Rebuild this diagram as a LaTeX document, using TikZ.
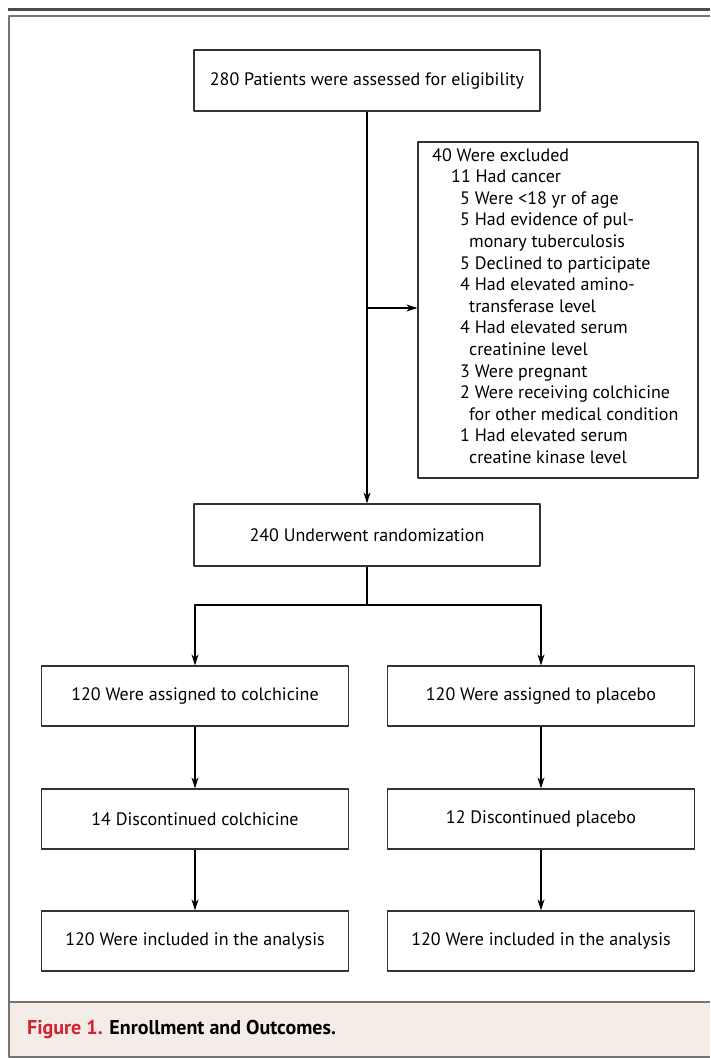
\documentclass[tikz,border=0pt]{standalone}
\usepackage{fontspec}
\setmainfont{PT Sans}
\usetikzlibrary{arrows.meta}
\definecolor{capbg}{HTML}{F3ECE7}
\definecolor{capred}{HTML}{D42030}
\definecolor{framegray}{HTML}{747474}
\tikzset{
  flowbox/.style={draw=black!80, line width=1.2pt, minimum width=307pt, minimum height=60pt, inner sep=0pt},
  flowline/.style={draw=black, line width=1.1pt},
  flowarrow/.style={flowline, -{Stealth[length=11pt,width=7pt]}},
}
\begin{document}
\begin{tikzpicture}[x=1pt, y=-1pt, line join=round, font=\fontsize{18}{21.6}\selectfont]
	\useasboundingbox (0,0) rectangle (710,1058);
	% frame and caption band
	\fill[capbg] (9,1002) rectangle (710,1057);
	\draw[black!70, line width=3pt] (8,9) -- (710,9);
	\draw[framegray, line width=2pt] (710,16) -- (9,16) -- (9,1057) -- (710,1057);
	\draw[framegray, line width=1.5pt] (9,1002) -- (710,1002);
	\node[anchor=base west, inner sep=0pt, font=\fontsize{20}{24}\selectfont] (caption) at (27,1034)
		{\textbf{\textcolor{capred}{Figure 1.} Enrollment and Outcomes.}};
	% boxes
	\node[flowbox, minimum width=346pt, minimum height=61pt] (assess) at (367,80.5) {280 Patients were assessed for eligibility};
	\node[flowbox, minimum width=280pt, minimum height=336pt] (excl) at (558,310) {};
	\node[anchor=north west, align=left, inner sep=0pt] (excltext) at (432,148) {%
		40 Were excluded\\
		\hspace*{19pt}11 Had cancer\\
		\hspace*{28pt}5 Were <18 yr of age\\
		\hspace*{28pt}5 Had evidence of pul-\\
		\hspace*{37pt}monary tuberculosis\\
		\hspace*{28pt}5 Declined to participate\\
		\hspace*{28pt}4 Had elevated amino-\\
		\hspace*{37pt}transferase level\\
		\hspace*{28pt}4 Had elevated serum\\
		\hspace*{37pt}creatinine level\\
		\hspace*{28pt}3 Were pregnant\\
		\hspace*{28pt}2 Were receiving colchicine\\
		\hspace*{37pt}for other medical condition\\
		\hspace*{28pt}1 Had elevated serum\\
		\hspace*{37pt}creatine kinase level};
	\node[flowbox, minimum width=346pt, minimum height=62pt] (rand) at (367,535) {240 Underwent randomization};
	\node[flowbox] (assignC) at (195,696) {120 Were assigned to colchicine};
	\node[flowbox] (assignP) at (541,696) {120 Were assigned to placebo};
	\node[flowbox] (discC) at (195,819) {14 Discontinued colchicine};
	\node[flowbox] (discP) at (541,819) {12 Discontinued placebo};
	\node[flowbox] (inclC) at (195,941) {120 Were included in the analysis};
	\node[flowbox] (inclP) at (541,941) {120 Were included in the analysis};
	% connectors
	\coordinate (split) at (367,308);
	\coordinate (fork) at (367,605);
	\draw[flowarrow] (assess) -- (rand);
	\draw[flowarrow] (split) -- (split -| excl.west);
	\draw[flowline] (rand) -- (fork);
	\draw[flowarrow] (fork) -| (assignC);
	\draw[flowarrow] (fork) -| (assignP);
	\draw[flowarrow] (assignC) -- (discC);
	\draw[flowarrow] (assignP) -- (discP);
	\draw[flowarrow] (discC) -- (inclC);
	\draw[flowarrow] (discP) -- (inclP);
\end{tikzpicture}
\end{document}
